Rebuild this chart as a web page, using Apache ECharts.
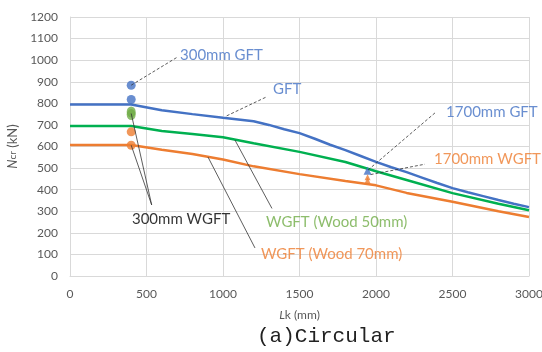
<!DOCTYPE html>
<html>
<head>
<meta charset="utf-8">
<script src="https://cdn.jsdelivr.net/npm/echarts@6/dist/echarts.min.js"></script>
<style>
  body { margin: 0; background: #fff; }
  #main { width: 542px; height: 352px; }
</style>
</head>
<body>
<div id="main"></div>
<script>
// 曲线数据 (Lk mm, Ncr kN)
var gftLine = [[0, 795], [400, 795], [600, 768], [800, 750], [1000, 733], [1200, 717], [1300, 700],
  [1400, 680], [1500, 662], [1600, 636], [1700, 608], [1800, 583], [1900, 556], [2000, 529],
  [2100, 504], [2200, 481], [2300, 456], [2400, 431], [2500, 407], [2600, 388], [2700, 370],
  [2800, 352], [2900, 335], [3000, 319]];
var wood50Line = [[0, 695], [400, 695], [600, 672], [800, 658], [1000, 643], [1200, 615],
  [1500, 575], [1800, 528], [2000, 485], [2200, 445], [2500, 384], [2800, 335], [3000, 305]];
var wood70Line = [[0, 607], [400, 607], [600, 585], [800, 565], [1000, 540], [1200, 508],
  [1500, 472], [1800, 440], [2000, 420], [2200, 385], [2500, 344], [2800, 300], [3000, 273]];

// 试验点
var gftTest = [[400, 884], [400, 818]];
var wgftTest50 = [[400, 748], [400, 760]];
var wgftTest70 = [[400, 668], [400, 606]];
var gft1700 = [[1945, 488]];
var wgft1700 = [[1945, 458], [1945, 442]];

// 注释 (文字位置 + 引线)
var notes = [
  { text: '300mm GFT', at: [719, 1023], color: '#4472C4', from: [[400, 884]], to: [697, 1012], dash: true },
  { text: 'GFT', at: [1327, 866], color: '#4472C4', from: [[1024, 742]], to: [1285, 830], dash: true },
  { text: '1700mm GFT', at: [2458, 759], color: '#4472C4', from: [[1948, 491]], to: [2386, 756], dash: true },
  { text: '1700mm WGFT', at: [2379, 542], color: '#ED7D31', from: [[1965, 470]], to: [2320, 518], dash: true },
  { text: '300mm WGFT', at: [405, 264], color: '#000000', from: [[400, 753], [400, 606]], to: [534, 329], dash: false },
  { text: 'WGFT (Wood 50mm)', at: [1281, 250], color: '#70AD47', from: [[1078, 630]], to: [1320, 313], dash: false },
  { text: 'WGFT (Wood 70mm)', at: [1248, 102], color: '#ED7D31', from: [[902, 551]], to: [1209, 130], dash: false }
];

var myChart = echarts.init(document.getElementById('main'));
var font = 'Lato';

function curve(data, color) {
  return { type: 'line', data: data, symbol: 'none', smooth: false, z: 3,
    lineStyle: { color: color, width: 2.5 } };
}
function dots(data, color, sym, size) {
  return { type: 'scatter', data: data, symbol: sym || 'circle', symbolSize: size || 9, z: 4,
    itemStyle: { color: color } };
}

var series = [
  curve(wood70Line, '#ED7D31'),
  curve(wood50Line, '#00B050'),
  curve(gftLine, '#4472C4'),
  dots(gftTest, '#4472C4'),
  dots(wgftTest50, '#70AD47', 'circle', [9, 11]),
  dots(wgftTest70, '#ED7D31'),
  dots(gft1700, '#4472C4', 'triangle', 8),
  dots(wgft1700, '#ED7D31', 'triangle', 6)
];

notes.forEach(function (n) {
  n.from.forEach(function (p) {
    series.push({ type: 'line', data: [p, n.to], symbol: 'none', z: 5, silent: true,
      lineStyle: { color: '#333', width: 0.8, type: n.dash ? [3, 2] : 'solid' } });
  });
  series.push({ type: 'scatter', data: [n.at], symbolSize: 0, z: 6, silent: true,
    label: { show: true, position: 'right', distance: 0, formatter: n.text,
      color: n.color, fontSize: 15, fontFamily: font } });
});

function plain(v) { return String(v); }

var option = {
  animation: false,
  grid: { left: 70, right: 13, top: 17, bottom: 76, outerBoundsMode: 'none' },
  title: {
    text: '(a)Circular', left: 252, top: 321,
    textStyle: { fontFamily: 'Liberation Mono', fontSize: 21, fontWeight: 'normal', color: '#222' }
  },
  xAxis: {
    type: 'value', min: 0, max: 3000, interval: 500,
    name: '{i|L}k (mm)', nameLocation: 'middle', nameGap: 33,
    nameTextStyle: { color: '#595959', fontSize: 12, fontFamily: font,
      rich: { i: { fontStyle: 'italic', fontSize: 12, fontFamily: font, color: '#595959' } } },
    axisLine: { show: true, lineStyle: { color: '#d9d9d9' } },
    axisTick: { show: false },
    axisLabel: { color: '#595959', fontSize: 12, fontFamily: font, margin: 12, formatter: plain },
    splitLine: { show: true, lineStyle: { color: '#d9d9d9' } }
  },
  yAxis: {
    type: 'value', min: 0, max: 1200, interval: 100,
    name: '{i|N}{s|cr} (kN)', nameLocation: 'middle', nameGap: 48, nameRotate: 90,
    nameTextStyle: { color: '#595959', fontSize: 13, fontFamily: font,
      rich: { i: { fontStyle: 'italic', fontSize: 13, fontFamily: font, color: '#595959' },
        s: { fontSize: 10, fontFamily: font, color: '#595959' } } },
    axisLine: { show: true, lineStyle: { color: '#d9d9d9' } },
    axisTick: { show: false },
    axisLabel: { color: '#595959', fontSize: 12, fontFamily: font, margin: 12, formatter: plain },
    splitLine: { show: true, lineStyle: { color: '#d9d9d9' } }
  },
  series: series
};

myChart.setOption(option);
</script>
</body>
</html>
